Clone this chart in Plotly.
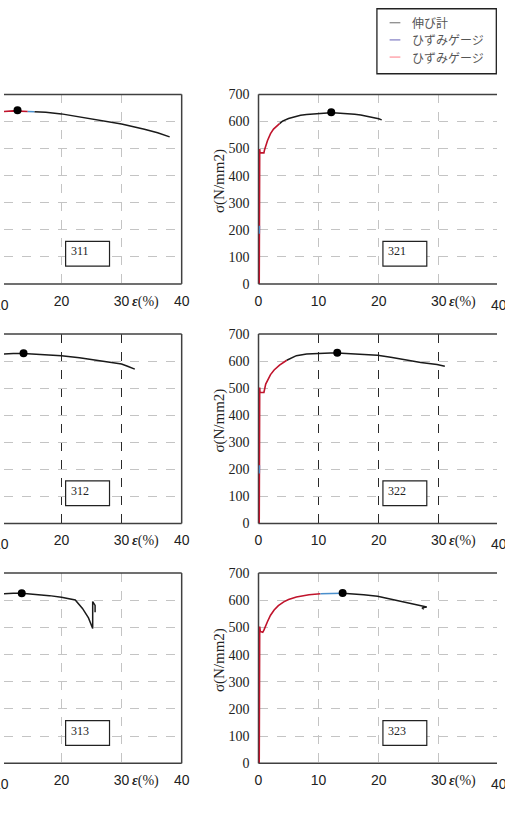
import plotly.graph_objects as go
from plotly.subplots import make_subplots

W, H = 505, 829

# ---------------- data (strain %, stress N/mm2) ----------------
panel_names = ["311", "321", "312", "322", "313", "323"]  # row-major order

# 311
red_311_x = [0.1, 0.2, 0.3, 0.9, 1.0, 1.5, 2, 3, 4, 5, 6, 8, 10, 12, 13, 14.4]
red_311_y = [0, 500, 485, 485, 495, 530, 556, 585, 600, 610, 618, 628, 636, 639, 639, 637]
blue_311_x = [14.4, 15.5]
blue_311_y = [637, 636]
blk_311_x = [15.5, 17.4, 20, 22, 24, 27, 30, 33.8, 36, 38]
blk_311_y = [636, 634, 628, 621, 613, 603, 591, 571, 558, 543]
max_311 = (12.7, 641)

# 312
red_312_x = [0.1, 0.2, 0.3, 0.9, 1.0, 2, 3, 4, 5]
red_312_y = [0, 500, 485, 485, 495, 555, 585, 600, 608]
blue_312_x = []
blue_312_y = []
blk_312_x = [5, 6, 8, 10, 12, 13.7, 16, 18, 20, 23, 26.1, 28, 30, 31, 32.2]
blk_312_y = [608, 615, 622, 626, 628, 628, 626, 623, 620, 612, 603, 597, 589, 581, 570]
max_312 = (13.7, 629)

# 313
red_313_x = [0.1, 0.2, 0.3, 0.9, 1.0, 2, 3, 4, 5]
red_313_y = [0, 500, 485, 485, 495, 555, 585, 600, 608]
blue_313_x = []
blue_313_y = []
blk_313_x = [5, 6, 8, 10, 12, 13.4, 16, 18, 20, 22.3, 23.5, 24.5, 25.2, 25.2, 25.6, 25.6]
blk_313_y = [608, 615, 621, 624, 626, 626, 622, 617, 611, 601, 570, 535, 496, 595, 581, 556]
max_313 = (13.4, 626)

# 321
red_321_x = [0.12, 0.14, 0.2, 0.25, 0.9, 1.0, 1.5, 2, 2.5, 3, 3.5]
red_321_y = [0, 200, 498, 484, 484, 495, 530, 555, 572, 583, 592]
blue_321_x = [0.13, 0.15]
blue_321_y = [185, 215]
blk_321_x = [3.5, 4, 5, 6, 7, 8, 9, 10, 11, 12, 13, 14, 15, 16, 17, 18, 19, 20, 20.5]
blk_321_y = [592, 601, 611, 618, 623, 626, 628, 630, 631, 632, 631, 630, 629, 627, 624, 620, 615, 610, 606]
max_321 = (12.1, 634)

# 322
red_322_x = [0.12, 0.14, 0.2, 0.25, 0.9, 1.0, 1.2, 2, 2.6, 3.5, 4.2, 4.7]
red_322_y = [0, 200, 502, 484, 484, 495, 515, 550, 567, 585, 597, 603]
blue_322_x = [0.13, 0.15]
blue_322_y = [185, 215]
blk_322_x = [4.7, 5.5, 6.3, 8, 10, 12, 13.1, 15, 17, 19.8, 22, 25, 27, 29.7, 31]
blk_322_y = [603, 613, 620, 626, 629, 630, 630, 628, 625, 621, 614, 601, 595, 587, 581]
max_322 = (13.1, 631)

# 323
red_323_x = [0.12, 0.14, 0.2, 0.3, 0.7, 0.9, 1.5, 2, 2.6, 3.3, 4.2, 5, 6.3, 7.5, 8.4, 10.3]
red_323_y = [0, 150, 503, 485, 482, 490, 522, 545, 564, 580, 594, 603, 612, 617, 620, 624]
blue_323_x = [10.3, 12, 14]
blue_323_y = [624, 625, 626]
blk_323_x = [14, 15.9, 17.5, 19.8, 21.5, 23.4, 25.5, 28, 27.2, 27.5]
blk_323_y = [626, 624, 620, 615, 607, 597, 587, 575, 572, 567]
max_323 = (14.0, 627)

series = {
    "311": (red_311_x, red_311_y, blue_311_x, blue_311_y, blk_311_x, blk_311_y, max_311),
    "312": (red_312_x, red_312_y, blue_312_x, blue_312_y, blk_312_x, blk_312_y, max_312),
    "313": (red_313_x, red_313_y, blue_313_x, blue_313_y, blk_313_x, blk_313_y, max_313),
    "321": (red_321_x, red_321_y, blue_321_x, blue_321_y, blk_321_x, blk_321_y, max_321),
    "322": (red_322_x, red_322_y, blue_322_x, blue_322_y, blk_322_x, blk_322_y, max_322),
    "323": (red_323_x, red_323_y, blue_323_x, blue_323_y, blk_323_x, blk_323_y, max_323),
}

x_ticks = [0, 10, 20, 30, 40]
y_ticks = [0, 100, 200, 300, 400, 500, 600, 700]
legend_labels = ["伸び計", "ひずみゲージ", "ひずみゲージ"]
y_title = "σ(N/mm2)"
x_title = "<b><i>ε</i></b>(%)"
label_box_x = (20.7, 28.0)
label_box_y = (66, 157)

# ---------------- layout geometry (pixels) ----------------
def px_x(p):
    return p / W

def px_y(p):
    return 1 - p / H

row_px = [(89, 282), (333, 526), (576.5, 770.3)]
left_dom = [0, px_x(182)]
right_dom = [px_x(260.7), 1.0]
left_range = [10.45, 40]
right_range = [0, 39.68]

RED = "#c0142c"
BLUE = "#4a8fcc"
BLACK = "#1a1a1a"
FRAME = "#404040"
SANS = "Liberation Sans, Arial, sans-serif"
SERIF = "Liberation Serif, Times New Roman, serif"

fig = make_subplots(rows=3, cols=2)

shapes = []
annotations = []

for i, name in enumerate(panel_names):
    r, c = i // 2 + 1, i % 2 + 1
    rx, ry, bx, by, kx, ky, mx = series[name]
    fig.add_trace(go.Scatter(x=kx, y=ky, mode="lines", line=dict(color=BLACK, width=1.5),
                             showlegend=False, hoverinfo="skip"), row=r, col=c)
    fig.add_trace(go.Scatter(x=rx, y=ry, mode="lines", line=dict(color=RED, width=1.6),
                             showlegend=False, hoverinfo="skip"), row=r, col=c)
    if bx:
        fig.add_trace(go.Scatter(x=bx, y=by, mode="lines", line=dict(color=BLUE, width=1.6),
                                 showlegend=False, hoverinfo="skip"), row=r, col=c)
    fig.add_trace(go.Scatter(x=[mx[0]], y=[mx[1]], mode="markers",
                             marker=dict(color="black", size=8), showlegend=False,
                             hoverinfo="skip"), row=r, col=c)

    top, bot = row_px[r - 1]
    ydom = [px_y(bot), px_y(top)]
    xdom = left_dom if c == 1 else right_dom
    xrng = left_range if c == 1 else right_range
    gx = "#2a2a2a" if r == 2 else "#c4c4c4"
    fig.update_xaxes(domain=xdom, range=xrng, tickvals=x_ticks, ticktext=[str(v) for v in x_ticks],
                     showgrid=True, gridcolor=gx, griddash="dash", gridwidth=1,
                     zeroline=False, showline=False, ticks="", ticklabelstandoff=7,
                     tickfont=dict(family=SANS, size=14, color="#222"), row=r, col=c)
    fig.update_yaxes(domain=ydom, range=[0, 700], tickvals=y_ticks,
                     showgrid=True, gridcolor="#c4c4c4", griddash="dash", gridwidth=1,
                     zeroline=False, showline=False, ticks="", ticklabelstandoff=8,
                     showticklabels=(c == 2),
                     tickfont=dict(family=SERIF, size=14, color="#222"), row=r, col=c)

    ax = "x" if i == 0 else f"x{i + 1}"
    ay = "y" if i == 0 else f"y{i + 1}"
    xd, yd = f"{ax} domain", f"{ay} domain"
    # frame
    line = dict(color=FRAME, width=1.5)
    shapes.append(dict(type="line", xref=xd, yref=yd, x0=0, x1=1, y0=1, y1=1, line=line, layer="above"))
    shapes.append(dict(type="line", xref=xd, yref=yd, x0=0, x1=1, y0=0, y1=0, line=line, layer="above"))
    if c == 1:
        shapes.append(dict(type="line", xref=xd, yref=yd, x0=1, x1=1, y0=0, y1=1, line=line, layer="above"))
    else:
        shapes.append(dict(type="line", xref=xd, yref=yd, x0=0, x1=0, y0=0, y1=1, line=line, layer="below"))
    # specimen label box
    shapes.append(dict(type="rect", xref=ax, yref=ay, x0=label_box_x[0], x1=label_box_x[1],
                       y0=label_box_y[0], y1=label_box_y[1], fillcolor="white",
                       line=dict(color="#222", width=1.2), layer="above"))
    annotations.append(dict(xref=ax, yref=ay, x=label_box_x[0], y=label_box_y[1], text=name,
                            xanchor="left", yanchor="top", xshift=3, yshift=-1, showarrow=False,
                            font=dict(family=SERIF, size=12, color="#222")))
    # cut-off edge tick labels (outside the visible axis range -> placed in domain fractions)
    edge_val = 10 if c == 1 else 40
    edge_frac = (edge_val - xrng[0]) / (xrng[1] - xrng[0])
    annotations.append(dict(xref=xd, yref=yd, x=edge_frac, y=0, text=str(edge_val), showarrow=False,
                            xanchor="center", yanchor="middle", yshift=-21,
                            font=dict(family=SANS, size=14, color="#222")))
    # x axis title
    annotations.append(dict(xref=ax, yref=yd, x=31.4, y=0, text=x_title, showarrow=False,
                            xanchor="left", yanchor="middle", yshift=-18,
                            font=dict(family=SERIF, size=14, color="#222")))
    # y axis title (right column only)
    if c == 2:
        yc = (top + bot) / 2 - 8
        annotations.append(dict(xref="paper", yref="paper", x=px_x(221), y=px_y(yc), text=y_title,
                                textangle=-90, showarrow=False, xanchor="center", yanchor="middle",
                                font=dict(family=SERIF, size=15, color="#222")))

# legend box
shapes.append(dict(type="rect", xref="paper", yref="paper", x0=px_x(382), x1=px_x(504.3),
                   y0=px_y(68), y1=px_y(1.8), line=dict(color="#222", width=1.3),
                   fillcolor="white", layer="above"))
legend_colors = ["#8c8c8c", "#8a86c8", "#ff9aa2"]
legend_ys = [16, 33.5, 51]
for lab, col, ly in zip(legend_labels, legend_colors, legend_ys):
    shapes.append(dict(type="line", xref="paper", yref="paper", x0=px_x(395), x1=px_x(406),
                       y0=px_y(ly), y1=px_y(ly), line=dict(color=col, width=1.3), layer="above"))
    annotations.append(dict(xref="paper", yref="paper", x=px_x(416), y=px_y(ly), text=lab,
                            showarrow=False, xanchor="left", yanchor="middle",
                            font=dict(family="Noto Sans CJK JP", size=12, color="#555")))

fig.update_layout(width=W, height=H, margin=dict(l=0, r=0, t=0, b=0),
                  paper_bgcolor="white", plot_bgcolor="white", showlegend=False,
                  shapes=shapes, annotations=annotations)

fig.write_html("out.html", config={"displayModeBar": False},
               post_script="document.body.style.margin='0px';document.body.style.overflow='hidden';")
